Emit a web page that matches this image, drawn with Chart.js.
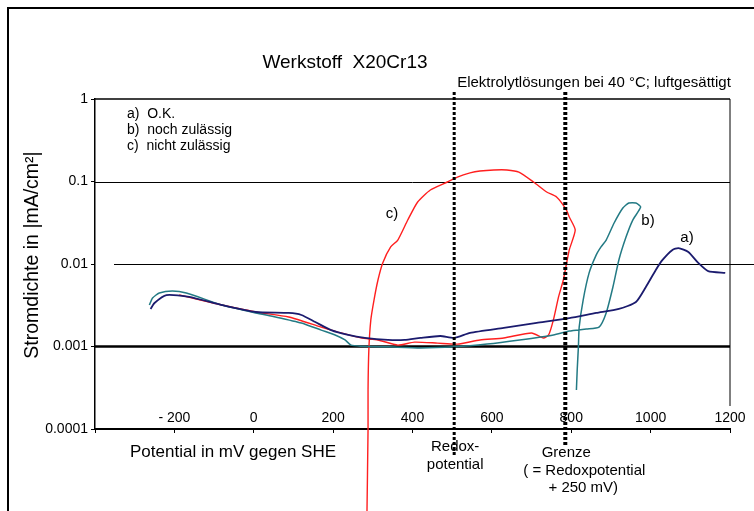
<!DOCTYPE html>
<html>
<head>
<meta charset="utf-8">
<script src="https://cdn.jsdelivr.net/npm/chart.js@4/dist/chart.umd.min.js"></script>
<style>
  html, body { margin: 0; padding: 0; background: #fff; }
  canvas { display: block; }
</style>
</head>
<body>
<canvas id="stromChart" width="754" height="511"></canvas>
<script>
// Potential in mV gegen SHE / Stromdichte in mA/cm2

// a) O.K.
var aPotential = [-260, -250, -220, -163, -80, 5, 88, 120, 155, 195, 238, 280, 338, 380, 420, 470, 505, 545, 630, 713, 795, 863, 920, 963, 988, 1013, 1030, 1055, 1070, 1095, 1120, 1145, 1188];
var aStrom = [0.00285, 0.00337, 0.0042, 0.0040, 0.00318, 0.00262, 0.00255, 0.00241, 0.00198, 0.00158, 0.00138, 0.00127, 0.0012, 0.0012, 0.00127, 0.00134, 0.00127, 0.00146, 0.00168, 0.00193, 0.00221, 0.00255, 0.00285, 0.00346, 0.00526, 0.00846, 0.0112, 0.0148, 0.0156, 0.014, 0.0103, 0.0082, 0.0078];

// b) noch zulässig
var bPotential = [-263, -255, -238, -205, -170, -80, 5, 55, 120, 170, 205, 230, 245, 270, 338, 420, 505, 588, 670, 755, 795, 838, 870, 888, 905, 920, 938, 955, 975, 963, 945, 930, 908, 888, 875, 863, 845, 830, 820, 818, 815, 813];
var bStrom = [0.00318, 0.00387, 0.00445, 0.00471, 0.00445, 0.00318, 0.00255, 0.00228, 0.00193, 0.00158, 0.00138, 0.0012, 0.00104, 0.00101, 0.00099, 0.00096, 0.00099, 0.00107, 0.0012, 0.00138, 0.00154, 0.00163, 0.00172, 0.00255, 0.00526, 0.0112, 0.0212, 0.0341, 0.0491, 0.0548, 0.0548, 0.0477, 0.0314, 0.0195, 0.0161, 0.0129, 0.0078, 0.00366, 0.00172, 0.00099, 0.00052, 0.000297];

// c) nicht zulässig
var cPotential = [-188, -80, 5, 88, 170, 220, 270, 313, 363, 405, 463, 513, 570, 630, 700, 730, 743, 755, 768, 780, 795, 810, 795, 788, 763, 738, 705, 668, 638, 605, 570, 545, 513, 488, 445, 413, 388, 363, 345, 325, 313, 303, 295, 290, 288, 288, 285];
var cStrom = [0.00423, 0.00318, 0.00262, 0.00228, 0.00172, 0.00146, 0.00127, 0.0012, 0.00104, 0.00113, 0.0011, 0.00107, 0.0012, 0.00127, 0.00146, 0.00127, 0.00138, 0.0021, 0.004, 0.0064, 0.0148, 0.0258, 0.0371, 0.0451, 0.0649, 0.0746, 0.0986, 0.130, 0.138, 0.138, 0.134, 0.127, 0.113, 0.0986, 0.0789, 0.0565, 0.0341, 0.0195, 0.0161, 0.0103, 0.0064, 0.00366, 0.0021, 0.00091, 0.0003, 0.0001, 0.0000079];

var xTicks = [-400, -200, 0, 200, 400, 600, 800, 1000, 1200];
var xTickLabels = ['', '- 200', '0', '200', '400', '600', '800', '1000', '1200'];
var yTicks = [0.0001, 0.001, 0.01, 0.1, 1];
var yTickLabels = ['0.0001', '0.001', '0.01', '0.1', '1'];

var redoxPotential = 505;
var grenzPotential = 785;

function points(xs, ys) {
  return xs.map(function (x, i) { return { x: x, y: ys[i] }; });
}

var FONT = '"Liberation Sans", Arial, sans-serif';

// extra drawing: frame, grid lines, dotted lines, texts
var decoration = {
  id: 'decoration',
  beforeDatasetsDraw: function (chart) {
    var c = chart.ctx, xs = chart.scales.x, ys = chart.scales.y, a = chart.chartArea;
    c.save();
    c.strokeStyle = '#000';
    // outer frame
    c.lineWidth = 2;
    c.beginPath();
    c.moveTo(8, 511); c.lineTo(8, 8); c.lineTo(754, 8);
    c.stroke();
    // plot top and right border
    c.lineWidth = 1.5;
    c.beginPath();
    c.moveTo(a.left, a.top); c.lineTo(a.right, a.top);
    c.stroke();
    c.lineWidth = 1;
    c.beginPath();
    c.moveTo(a.right, a.top); c.lineTo(a.right, a.bottom - 23);
    c.stroke();
    // grid lines
    var y1 = Math.round(ys.getPixelForValue(0.1)) + 0.5;
    c.beginPath(); c.moveTo(a.left, y1); c.lineTo(a.right, y1); c.stroke();
    var y2 = Math.round(ys.getPixelForValue(0.01)) + 0.5;
    c.beginPath(); c.moveTo(a.left + 19, y2); c.lineTo(754, y2); c.stroke();
    var y3 = ys.getPixelForValue(0.001);
    c.lineWidth = 2.5;
    c.beginPath(); c.moveTo(a.left, y3); c.lineTo(a.right, y3); c.stroke();

    // x tick labels sit above the axis line
    c.fillStyle = '#000';
    c.font = '14px ' + FONT;
    c.textAlign = 'center';
    c.textBaseline = 'middle';
    xTicks.forEach(function (v, i) {
      c.fillText(xTickLabels[i], xs.getPixelForValue(v), a.bottom - 11);
    });
    c.restore();
  },
  afterDatasetsDraw: function (chart) {
    var c = chart.ctx, xs = chart.scales.x, ys = chart.scales.y, a = chart.chartArea;
    c.save();
    c.strokeStyle = '#000';
    c.setLineDash([3, 2]);
    var xr = xs.getPixelForValue(redoxPotential);
    c.lineWidth = 3;
    c.beginPath(); c.moveTo(xr, a.top - 7); c.lineTo(xr, a.bottom + 27); c.stroke();
    var xg = xs.getPixelForValue(grenzPotential);
    c.lineWidth = 4;
    c.beginPath(); c.moveTo(xg, a.top - 7); c.lineTo(xg, a.bottom + 16); c.stroke();
    c.setLineDash([]);

    c.fillStyle = '#000';
    c.textBaseline = 'middle';
    c.textAlign = 'center';
    c.font = '19px ' + FONT;
    c.fillText('Werkstoff  X20Cr13', 345, 63);
    c.font = '15px ' + FONT;
    c.fillText('Elektrolytlösungen bei 40 °C; luftgesättigt', 594, 83);

    // legend text
    c.textAlign = 'left';
    c.font = '14px ' + FONT;
    c.fillText('a)  O.K.', 127, 114);
    c.fillText('b)  noch zulässig', 127, 130);
    c.fillText('c)  nicht zulässig', 127, 146);

    // curve labels
    c.textAlign = 'center';
    c.font = '15px ' + FONT;
    c.fillText('c)', 392, 214);
    c.fillText('b)', 648, 221);
    c.fillText('a)', 687, 238);

    // axis title x
    c.textAlign = 'left';
    c.font = '17px ' + FONT;
    c.fillText('Potential in mV gegen SHE', 130, 452);

    // dotted line labels
    c.textAlign = 'center';
    c.font = '15px ' + FONT;
    c.fillText('Redox-', xr + 1, 447);
    c.fillText('potential', xr + 1, 465);
    c.fillText('Grenze', xg + 1, 453);
    c.fillText('( = Redoxpotential', xg + 19, 471);
    c.fillText('+ 250 mV)', xg + 18, 488);

    // axis title y
    c.translate(33, 255);
    c.rotate(-Math.PI / 2);
    c.font = '19.5px ' + FONT;
    c.fillText('Stromdichte in |mA/cm²|', 0, 0);
    c.restore();
  }
};

var ctx = document.getElementById('stromChart');
var stromChart = new Chart(ctx, {
  type: 'scatter',
  data: {
    datasets: [{
      label: 'a) O.K.',
      data: points(aPotential, aStrom),
      borderColor: '#1b1b6e',
      borderWidth: 1.8
    }, {
      label: 'b) noch zulässig',
      data: points(bPotential, bStrom),
      borderColor: '#237a84',
      borderWidth: 1.5
    }, {
      label: 'c) nicht zulässig',
      data: points(cPotential, cStrom),
      borderColor: '#ff1f1f',
      borderWidth: 1.4,
      clip: false
    }]
  },
  options: {
    responsive: false,
    animation: false,
    showLine: true,
    elements: {
      point: { radius: 0 },
      line: { tension: 0.2 }
    },
    layout: { padding: { left: 0, right: 24, top: 99, bottom: 0 } },
    plugins: {
      legend: { display: false },
      tooltip: { enabled: false }
    },
    scales: {
      x: {
        type: 'linear',
        min: -400,
        max: 1200,
        afterFit: function (s) { s.height = 82; },
        afterBuildTicks: function (s) { s.ticks = xTicks.map(function (v) { return { value: v }; }); },
        ticks: {
          display: false
        },
        grid: { drawOnChartArea: false, tickLength: 4, color: '#000' },
        border: { color: '#000', width: 2 }
      },
      y: {
        type: 'logarithmic',
        min: 0.0001,
        max: 1,
        afterFit: function (s) { s.width = 95; },
        afterBuildTicks: function (s) { s.ticks = yTicks.map(function (v) { return { value: v }; }); },
        ticks: {
          padding: 3,
          color: '#000',
          font: { family: FONT, size: 14 },
          callback: function (v) {
            var i = yTicks.indexOf(v);
            return i >= 0 ? yTickLabels[i] : '';
          }
        },
        grid: { drawOnChartArea: false, tickLength: 4, color: '#000' },
        border: { color: '#000', width: 1.5 }
      }
    }
  },
  plugins: [decoration]
});
</script>
</body>
</html>
